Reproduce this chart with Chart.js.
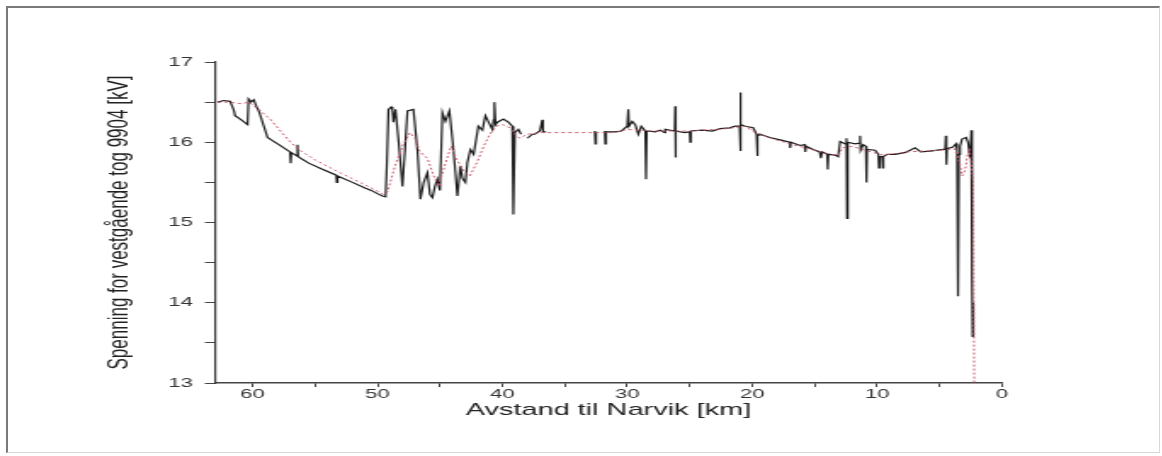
<!DOCTYPE html>
<html>
<head>
<meta charset="utf-8">
<script src="https://cdn.jsdelivr.net/npm/chart.js@4.4.0/dist/chart.umd.min.js"></script>
<style>
  body { margin: 0; background: #fff; }
  #frame { position: absolute; left: 6px; top: 6px; width: 1151px; height: 444px;
           border-left: 2px solid #7a7a7a; border-top: 2px solid #7a7a7a;
           border-right: 1px solid #d8d8d8; border-bottom: 1px solid #d8d8d8; }
  #wrap { position: absolute; left: 0; top: 0; width: 684px; height: 456px;
          transform: scaleX(1.7); transform-origin: 0 0; }
</style>
</head>
<body>
<div id="frame"></div>
<div id="wrap"><canvas id="c" width="684" height="456"></canvas></div>
<script>
// measured voltage, train 9904 (black)
const measKm = [62.8, 62.3, 61.8, 61.5, 61.4, 60.9, 60.4, 60.32, 60.1, 59.9, 59.7, 59.5, 59.1, 58.8, 58.5, 57.8, 57.0, 56.95, 56.9, 56.45, 56.4, 56.35, 55.5, 54.5, 53.3, 53.25, 53.2, 52.0, 51.0, 50.5, 50.0, 49.6, 49.35,
  49.25, 49.12, 48.9, 48.8, 48.72, 48.56, 48.3, 48.0, 47.8, 47.6, 47.12, 46.8, 46.56, 46.3, 46.0, 45.8, 45.6, 45.4, 45.2, 45.0, 44.8, 44.56, 44.24, 44.0, 43.8, 43.6, 43.36, 43.2, 42.96, 42.8, 42.56, 42.3, 41.92, 41.6, 41.36, 41.1, 40.8, 40.7, 40.64, 40.55, 40.4, 39.92, 39.52, 39.2, 39.12, 39.0, 38.72, 38.5,
  38.3, 38.0, 37.6, 37.4, 37.0, 36.8, 36.75, 36.5, 36.3, 32.6, 32.55, 32.5, 32.2,
  31.8, 31.76, 31.7, 31.0, 30.48, 30.32, 30.0, 29.92, 29.86, 29.6, 29.36, 29.12, 28.88, 28.56, 28.5, 28.44, 27.76, 27.36, 27.0, 26.96, 26.2, 26.16, 26.14, 26.1, 25.4, 25.0, 24.96, 24.9, 24.0, 23.2, 22.56, 21.8, 21.36, 21.0, 20.96, 20.94, 20.9, 20.56, 19.92, 19.65, 19.6, 19.55, 19.36, 18.6, 17.76, 17.0, 16.96, 16.9, 16.16, 15.8, 15.75, 15.7, 15.12, 14.6, 14.5, 14.4, 14.0, 13.95, 13.9, 13.36, 13.12, 12.96, 12.56, 12.45, 12.4, 12.35, 11.76, 11.4, 11.36, 11.32, 11.12, 10.9, 10.85, 10.8, 10.16, 9.9, 9.85, 9.8, 9.6, 9.55, 9.5, 9.2, 8.56, 7.8, 7.36, 6.96, 6.5, 5.76, 4.72, 4.55, 4.5, 4.45, 4.4, 3.92, 3.68, 3.6, 3.52, 3.45, 3.36, 3.2, 2.88, 2.72, 2.56, 2.45, 2.4, 2.35, 2.3];
const measKv = [16.50, 16.52, 16.51, 16.40, 16.33, 16.28, 16.22, 16.54, 16.50, 16.53, 16.45, 16.39, 16.20, 16.06, 16.03, 15.96, 15.88, 15.74, 15.87, 15.83, 15.97, 15.82, 15.74, 15.67, 15.59, 15.50, 15.58, 15.50, 15.43, 15.40, 15.36, 15.33, 15.32,
  15.70, 16.41, 16.44, 16.40, 16.25, 16.41, 16.00, 15.45, 15.90, 16.39, 16.41, 15.90, 15.29, 15.50, 15.62, 15.35, 15.31, 15.45, 15.54, 15.40, 16.37, 16.26, 16.39, 16.04, 15.70, 15.33, 15.70, 15.55, 15.50, 15.75, 15.91, 15.85, 16.20, 16.15, 16.33, 16.25, 16.16, 16.28, 16.50, 16.22, 16.25, 16.29, 16.25, 16.20, 15.10, 16.12, 16.16, 16.10,
  null, 16.05, 16.10, 16.10, 16.14, 16.28, 16.13, 16.13, null, 16.14, 15.98, 16.13, null,
  16.14, 15.98, 16.13, 16.13, 16.14, 16.16, 16.20, 16.41, 16.20, 16.26, 16.22, 16.10, 16.20, 16.14, 15.54, 16.14, 16.13, 16.15, 16.12, 16.16, 16.14, 16.45, 15.81, 16.14, 16.12, 16.13, 16.00, 16.14, 16.15, 16.14, 16.17, 16.18, 16.20, 16.20, 16.62, 15.89, 16.22, 16.20, 16.18, 16.10, 15.83, 16.08, 16.10, 16.06, 16.03, 16.00, 15.93, 16.00, 15.96, 15.97, 15.88, 15.95, 15.91, 15.88, 15.80, 15.88, 15.85, 15.66, 15.85, 15.84, 15.82, 16.01, 15.98, 16.05, 15.05, 16.00, 15.98, 15.99, 16.08, 15.90, 15.97, 15.95, 15.50, 15.91, 15.90, 15.85, 15.68, 15.82, 15.82, 15.68, 15.82, 15.85, 15.85, 15.87, 15.90, 15.93, 15.88, 15.89, 15.91, 15.91, 16.08, 15.72, 15.92, 15.94, 15.98, 15.90, 14.08, 15.85, 15.95, 16.04, 16.06, 16.00, 15.80, 16.15, 14.29, 13.58, 14.00];

// simulated voltage (red dotted)
const simKm = [62.8, 61.8, 60.9, 60.3, 59.6, 58.6, 57.2, 56.4, 55.0, 53.0, 51.0, 49.5, 49.2, 48.6, 48.0, 47.4, 47.0, 46.6, 46.0, 45.5, 45.1, 44.6, 44.1, 43.7, 43.0, 42.6, 42.0, 41.5, 41.0, 40.5, 40.0, 39.4, 39.0, 38.6, 38.0, 37.0, 35.0, 33.0, 31.0, 30.0, 28.0, 25.0, 22.0, 20.5, 20.0, 18.5, 17.0, 15.0, 13.5, 13.0, 12.8, 12.0, 11.0, 9.5, 7.5, 5.0, 3.8, 3.4, 3.2, 2.95, 2.75, 2.6, 2.45, 2.3, 2.25, 2.22];
const simKv = [16.50, 16.50, 16.48, 16.50, 16.42, 16.29, 16.04, 15.92, 15.78, 15.62, 15.47, 15.35, 15.38, 15.70, 15.95, 16.12, 16.05, 15.88, 15.80, 15.58, 15.45, 15.72, 15.95, 15.80, 15.62, 15.58, 15.76, 15.95, 16.10, 16.20, 16.22, 16.18, 16.10, 16.05, 16.10, 16.12, 16.12, 16.12, 16.12, 16.16, 16.14, 16.14, 16.17, 16.20, 16.14, 16.05, 15.98, 15.90, 15.84, 15.85, 15.93, 15.95, 15.90, 15.84, 15.88, 15.90, 15.92, 15.75, 15.58, 15.65, 15.85, 15.92, 15.70, 15.50, 13.60, 13.00];

const xTicks = [60, 50, 40, 30, 20, 10, 0];
const yTicks = [13, 14, 15, 16, 17];

const pts = (xs, ys) => xs.map((x, i) => ({ x: x, y: ys[i] }));
const font = '"Liberation Sans", Arial, sans-serif';

new Chart(document.getElementById('c'), {
  type: 'line',
  data: {
    datasets: [
      {
        label: 'Simulert',
        data: pts(simKm, simKv),
        borderColor: 'rgb(205, 90, 110)',
        borderWidth: 1,
        borderDash: [2, 2],
        pointRadius: 0,
        tension: 0,
      },
      {
        label: 'Målt',
        data: pts(measKm, measKv),
        borderColor: '#1c1c1c',
        borderWidth: 1.2,
        pointRadius: 0,
        tension: 0,
      },
    ],
  },
  options: {
    responsive: false,
    devicePixelRatio: 1,
    animation: false,
    layout: { padding: { left: 60, top: 62, right: 94.6, bottom: 35 } },
    plugins: { legend: { display: false }, tooltip: { enabled: false } },
    scales: {
      x: {
        type: 'linear',
        reverse: true,
        min: 0,
        max: 63,
        afterFit: (s) => { s.height = 38 },
        border: { color: '#444', width: 1.4 },
        grid: { drawOnChartArea: false, tickLength: 4, color: '#444' },
        ticks: {
          stepSize: 5,
          includeBounds: false,
          autoSkip: false,
          maxRotation: 0,
          padding: 0,
          color: '#333',
          font: { family: font, size: 13 },
          callback: (v) => (xTicks.includes(v) ? String(v) : ''),
        },
        title: {
          display: true,
          text: 'Avstand til Narvik [km]',
          color: '#222',
          font: { family: font, size: 17 },
          padding: { top: 0, bottom: 0 },
        },
      },
      y: {
        min: 13,
        max: 17,
        afterFit: (s) => { s.width = 66.5 },
        border: { color: '#333', width: 1.2 },
        grid: { drawOnChartArea: false, tickLength: 6, color: '#444' },
        ticks: {
          stepSize: 0.5,
          autoSkip: false,
          padding: 7,
          color: '#333',
          font: { family: font, size: 13 },
          callback: (v) => (yTicks.includes(v) ? String(v) : ''),
        },
        title: {
          display: true,
          text: 'Spenning for vestgående tog 9904 [kV]',
          color: '#222',
          font: { family: font, size: 17 },
          padding: { top: 0, bottom: 0 },
        },
      },
    },
  },
})
</script>
</body>
</html>
